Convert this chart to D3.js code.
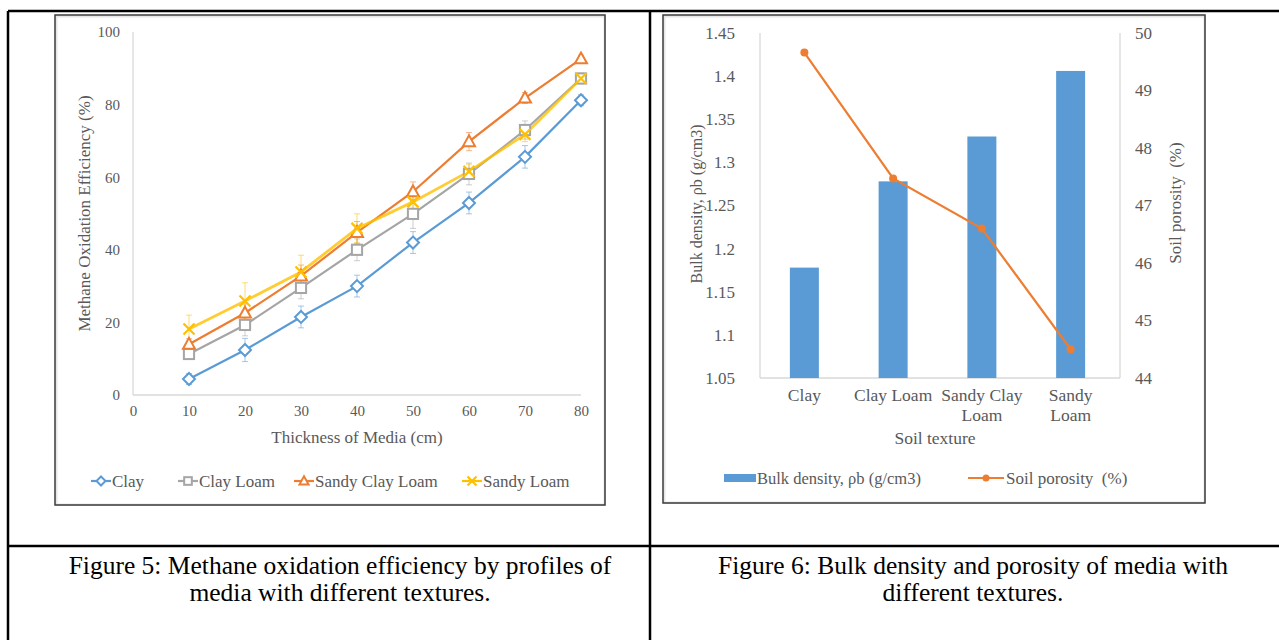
<!DOCTYPE html>
<html>
<head>
<meta charset="utf-8">
<script src="https://cdn.jsdelivr.net/npm/d3@7"></script>
<style>
  html, body { margin: 0; padding: 0; background: #fff; }
  svg { display: block; }
  text { font-family: "Liberation Serif", "Times New Roman", serif; white-space: pre; }
</style>
</head>
<body>
<svg id="chart" width="1279" height="640"></svg>
<script>
// ---------- DATA ----------
const thickness = [10, 20, 30, 40, 50, 60, 70, 80];
const seriesNames = ["Clay", "Clay Loam", "Sandy Clay Loam", "Sandy Loam"];
const clayEff = [4.4, 12.4, 21.5, 30.0, 42.0, 52.9, 65.6, 81.2];
const clayLoamEff = [11.3, 19.3, 29.5, 40.0, 49.9, 60.9, 73.0, 87.2];
const sandyClayLoamEff = [14.0, 22.6, 32.8, 44.8, 56.0, 69.8, 81.8, 92.6];
const sandyLoamEff = [18.2, 25.9, 33.9, 45.9, 53.2, 61.6, 71.8, 87.2];
const clayErr = [1.5, 3.2, 3.0, 3.0, 3.0, 3.0, 3.1, 1.5];
const clayLoamErr = [1.5, 3.0, 3.0, 3.0, 4.0, 3.0, 2.5, 1.5];
const sandyClayLoamErr = [1.5, 2.5, 3.0, 3.0, 2.7, 2.5, 1.5, 1.0];
const sandyLoamErr = [3.8, 5.0, 4.6, 4.0, 3.0, 2.0, 2.0, 1.0];
const effTicksY = [0, 20, 40, 60, 80, 100];
const effTicksX = [0, 10, 20, 30, 40, 50, 60, 70, 80];

const textures = ["Clay", "Clay Loam", "Sandy Clay Loam", "Sandy Loam"];
const textureLabelLines = [["Clay"], ["Clay Loam"], ["Sandy Clay", "Loam"], ["Sandy", "Loam"]];
const bulkDensity = [1.178, 1.278, 1.330, 1.406];
const porosity = [49.66, 47.47, 46.60, 44.50];
const densityTicks = [1.05, 1.1, 1.15, 1.2, 1.25, 1.3, 1.35, 1.4, 1.45];
const porosityTicks = [44, 45, 46, 47, 48, 49, 50];

const caption5 = ["Figure 5: Methane oxidation efficiency by profiles of", "media with different textures."];
const caption6 = ["Figure 6: Bulk density and porosity of media with", "different textures."];

// ---------- STYLE ----------
const colors = ["#5B9BD5", "#A5A5A5", "#ED7D31", "#FFC000"];
const markers = ["diamond", "square", "triangle", "x"];
const axisText = "#595959";
const axisLine = "#D9D9D9";

const svg = d3.select("#chart");

// ---------- TABLE ----------
const tbl = svg.append("g").attr("stroke", "#000").attr("stroke-width", 2.5);
tbl.append("line").attr("x1", 8).attr("x2", 1279).attr("y1", 11).attr("y2", 11);
tbl.append("line").attr("x1", 8).attr("x2", 8).attr("y1", 11).attr("y2", 640);
tbl.append("line").attr("x1", 650).attr("x2", 650).attr("y1", 11).attr("y2", 640);
tbl.append("line").attr("x1", 8).attr("x2", 1279).attr("y1", 546).attr("y2", 546);

function caption(lines, cx) {
  lines.forEach((t, i) => {
    svg.append("text").attr("x", cx).attr("y", 574 + i * 27)
      .attr("text-anchor", "middle").attr("font-size", 25.5).attr("fill", "#000").text(t);
  });
}
caption(caption5, 340);
caption(caption6, 973);

// chart frames
function frame(x0, y0, x1, y1) {
  svg.append("rect").attr("x", x0 + 1.5).attr("y", y0 + 1.5).attr("width", x1 - x0 - 2).attr("height", y1 - y0 - 2)
    .attr("fill", "none").attr("stroke", "#e6e6e6").attr("stroke-width", 2);
  svg.append("rect").attr("x", x0).attr("y", y0).attr("width", x1 - x0).attr("height", y1 - y0)
    .attr("fill", "none").attr("stroke", "#3a3a3a").attr("stroke-width", 1.5);
}
frame(55, 15, 605, 505);
frame(663, 15, 1205, 503);

// ---------- LEFT CHART ----------
const xL = d3.scaleLinear().domain([0, 80]).range([133, 581]);
const yL = d3.scaleLinear().domain([0, 100]).range([395, 32]);

const gL = svg.append("g");
const axY = gL.append("g").attr("transform", `translate(${xL(0)},0)`)
  .call(d3.axisLeft(yL).tickValues(effTicksY).tickSize(0).tickPadding(13));
const axX = gL.append("g").attr("transform", `translate(0,${yL(0)})`)
  .call(d3.axisBottom(xL).tickValues(effTicksX).tickSize(0).tickPadding(10));
[axY, axX].forEach(a => {
  a.select(".domain").attr("stroke", axisLine).attr("stroke-width", 1.3);
  a.selectAll("text").attr("fill", axisText).attr("font-size", 15)
    .attr("font-family", "Liberation Serif, Times New Roman, serif");
});
axX.select(".domain").attr("d", `M${xL(0)},0H${xL(80)}`);
axY.select(".domain").attr("d", `M0,${yL(0)}V${yL(100)}`);

gL.append("text").attr("x", xL(40)).attr("y", 443).attr("text-anchor", "middle")
  .attr("font-size", 17).attr("fill", axisText).text("Thickness of Media (cm)");
gL.append("text").attr("transform", `translate(90,${(yL(0) + yL(100)) / 2}) rotate(-90)`)
  .attr("text-anchor", "middle").attr("font-size", 17).attr("fill", axisText)
  .text("Methane Oxidation Efficiency (%)");

const effSeries = [clayEff, clayLoamEff, sandyClayLoamEff, sandyLoamEff];
const errSeries = [clayErr, clayLoamErr, sandyClayLoamErr, sandyLoamErr];

function drawMarker(g, type, x, y, color, s) {
  if (type === "diamond") {
    g.append("path").attr("d", `M${x},${y - s}L${x + s},${y}L${x},${y + s}L${x - s},${y}Z`)
      .attr("fill", "#fff").attr("stroke", color).attr("stroke-width", 2);
  } else if (type === "square") {
    g.append("rect").attr("x", x - s * 0.85).attr("y", y - s * 0.85).attr("width", s * 1.7).attr("height", s * 1.7)
      .attr("fill", "#fff").attr("stroke", color).attr("stroke-width", 2);
  } else if (type === "triangle") {
    g.append("path").attr("d", `M${x},${y - s * 1.05}L${x + s},${y + s * 0.75}L${x - s},${y + s * 0.75}Z`)
      .attr("fill", "#fff").attr("stroke", color).attr("stroke-width", 2);
  } else if (type === "x") {
    g.append("path").attr("d", `M${x - s},${y - s}L${x + s},${y + s}M${x - s},${y + s}L${x + s},${y - s}`)
      .attr("stroke", color).attr("stroke-width", 2.2);
  }
}

// error bars
effSeries.forEach((vals, si) => {
  const g = gL.append("g").attr("stroke", colors[si]).attr("stroke-opacity", 0.55).attr("stroke-width", 1);
  vals.forEach((v, i) => {
    const x = xL(thickness[i]);
    const e = errSeries[si][i];
    g.append("line").attr("x1", x).attr("x2", x).attr("y1", yL(v - e)).attr("y2", yL(v + e));
    g.append("line").attr("x1", x - 3).attr("x2", x + 3).attr("y1", yL(v + e)).attr("y2", yL(v + e));
    g.append("line").attr("x1", x - 3).attr("x2", x + 3).attr("y1", yL(v - e)).attr("y2", yL(v - e));
  });
});

const lineGen = d3.line().x((d, i) => xL(thickness[i])).y(d => yL(d));
effSeries.forEach((vals, si) => {
  gL.append("path").datum(vals).attr("d", lineGen).attr("fill", "none")
    .attr("stroke", colors[si]).attr("stroke-width", si === 3 ? 2.8 : 2.2).attr("stroke-opacity", si === 3 ? 0.8 : 1);
});
effSeries.forEach((vals, si) => {
  const g = gL.append("g");
  vals.forEach((v, i) => drawMarker(g, markers[si], xL(thickness[i]), yL(v), colors[si], si === 3 ? 5.5 : 6));
});

// legend left
const legL = gL.append("g");
const legXs = [112, 199, 315, 483];
seriesNames.forEach((n, i) => {
  const tx = legXs[i], ly = 481;
  legL.append("line").attr("x1", tx - 21).attr("x2", tx - 1).attr("y1", ly).attr("y2", ly)
    .attr("stroke", colors[i]).attr("stroke-width", 2.2);
  drawMarker(legL, markers[i], tx - 11, ly, colors[i], 4.5);
  legL.append("text").attr("x", tx).attr("y", ly).attr("dy", "0.35em").attr("font-size", 17)
    .attr("fill", axisText).text(n);
});

// ---------- RIGHT CHART ----------
const xR = d3.scaleBand().domain(textures).range([760, 1115]);
const yR = d3.scaleLinear().domain([1.05, 1.45]).range([378, 33]);
const yR2 = d3.scaleLinear().domain([44, 50]).range([378, 33]);

const gR = svg.append("g");
const aL = gR.append("g").attr("transform", "translate(760,0)")
  .call(d3.axisLeft(yR).tickValues(densityTicks).tickSize(0).tickPadding(25).tickFormat(d3.format("~g")));
const aR = gR.append("g").attr("transform", "translate(1120,0)")
  .call(d3.axisRight(yR2).tickValues(porosityTicks).tickSize(0).tickPadding(15).tickFormat(d3.format("d")));
const aB = gR.append("g").attr("transform", "translate(0,378)")
  .call(d3.axisBottom(xR).tickSize(0).tickFormat(""));
[aL, aR, aB].forEach(a => {
  a.select(".domain").attr("stroke", axisLine).attr("stroke-width", 1.3);
  a.selectAll("text").attr("fill", axisText).attr("font-size", 17)
    .attr("font-family", "Liberation Serif, Times New Roman, serif");
});
aL.select(".domain").attr("d", "M0,378V33");
aR.select(".domain").attr("d", "M0,378V33");
aB.select(".domain").attr("d", "M760,0H1120");

// bars
const barW = 29;
gR.selectAll("rect.bar").data(bulkDensity).enter().append("rect").attr("class", "bar")
  .attr("x", (d, i) => xR(textures[i]) + xR.bandwidth() / 2 - barW / 2)
  .attr("width", barW)
  .attr("y", d => yR(d))
  .attr("height", d => yR(1.05) - yR(d))
  .attr("fill", "#5B9BD5");

// porosity line
const lineR = d3.line().x((d, i) => xR(textures[i]) + xR.bandwidth() / 2).y(d => yR2(d));
gR.append("path").datum(porosity).attr("d", lineR).attr("fill", "none")
  .attr("stroke", "#ED7D31").attr("stroke-width", 2.2);
gR.selectAll("circle.pt").data(porosity).enter().append("circle").attr("class", "pt")
  .attr("cx", (d, i) => xR(textures[i]) + xR.bandwidth() / 2).attr("cy", d => yR2(d))
  .attr("r", 4).attr("fill", "#ED7D31");

// category labels
textureLabelLines.forEach((lines, i) => {
  lines.forEach((t, j) => {
    gR.append("text").attr("x", xR(textures[i]) + xR.bandwidth() / 2).attr("y", 395 + j * 20)
      .attr("dy", "0.35em").attr("text-anchor", "middle").attr("font-size", 17.5).attr("fill", axisText).text(t);
  });
});
gR.append("text").attr("x", 935).attr("y", 438).attr("dy", "0.35em").attr("text-anchor", "middle")
  .attr("font-size", 17.5).attr("fill", axisText).text("Soil texture");
gR.append("text").attr("transform", "translate(702,204) rotate(-90)").attr("text-anchor", "middle")
  .attr("font-size", 16).attr("fill", axisText).text("Bulk density, ρb (g/cm3)");
gR.append("text").attr("transform", "translate(1181,203) rotate(-90)").attr("text-anchor", "middle")
  .attr("font-size", 17).attr("fill", axisText).text("Soil porosity\u00a0\u00a0(%)");

// legend right
const legR = gR.append("g");
legR.append("rect").attr("x", 724).attr("y", 474).attr("width", 32).attr("height", 8).attr("fill", "#5B9BD5");
legR.append("text").attr("x", 757).attr("y", 478).attr("dy", "0.35em").attr("font-size", 16.5)
  .attr("fill", axisText).text("Bulk density, ρb (g/cm3)");
legR.append("line").attr("x1", 968).attr("x2", 1004).attr("y1", 478).attr("y2", 478)
  .attr("stroke", "#ED7D31").attr("stroke-width", 2.2);
legR.append("circle").attr("cx", 986).attr("cy", 478).attr("r", 3.5).attr("fill", "#ED7D31");
legR.append("text").attr("x", 1006).attr("y", 478).attr("dy", "0.35em").attr("font-size", 17)
  .attr("fill", axisText).text("Soil porosity\u00a0\u00a0(%)");
</script>
</body>
</html>
